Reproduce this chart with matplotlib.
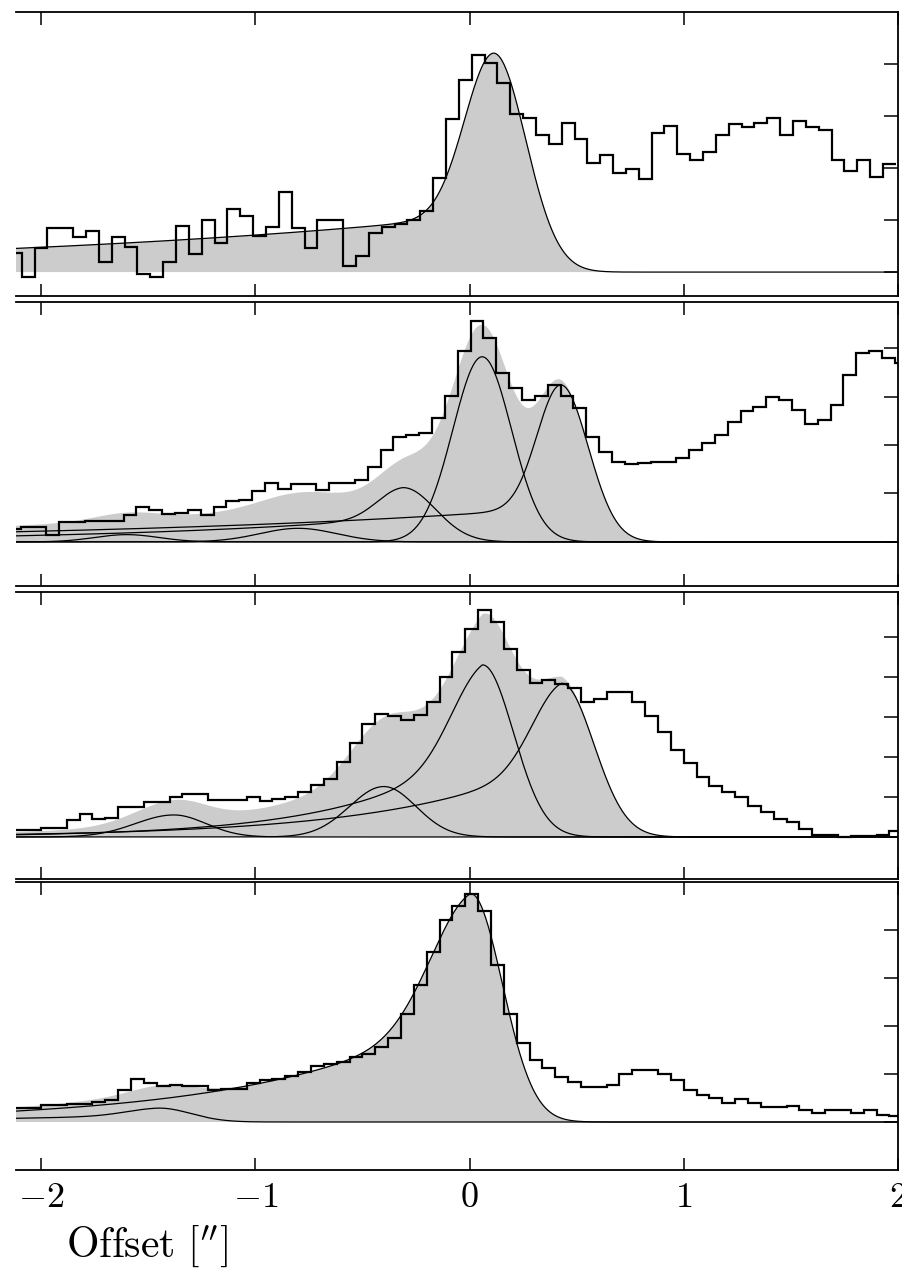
import matplotlib.pyplot as plt
import numpy as np

plt.rcParams['mathtext.fontset'] = 'cm'

# histogram binning (arcsec)
bin_width = 0.06
first_edge = [-2.15, -2.155, -2.18, -2.18]

flux_1 = [0.37, -0.09, 0.46, 0.85, 0.85, 0.67, 0.79, 0.19, 0.67, 0.48,
          -0.04, -0.09, 0.19, 0.88, 0.35, 1.00, 0.55, 1.21, 1.08, 0.69,
          0.87, 1.54, 0.84, 0.46, 1.01, 1.01, 0.12, 0.31, 0.75, 0.87,
          0.92, 1.00, 1.17, 1.80, 2.95, 3.69, 4.18, 4.02, 3.63, 3.03,
          2.96, 2.63, 2.46, 2.87, 2.56, 2.10, 2.25, 1.90, 1.98, 1.79,
          2.67, 2.81, 2.27, 2.15, 2.31, 2.63, 2.85, 2.79, 2.87, 2.96,
          2.63, 2.90, 2.79, 2.73, 2.15, 1.94, 2.15, 1.83, 2.08]

flux_2 = [0.27, 0.31, 0.31, 0.14, 0.42, 0.42, 0.43, 0.43, 0.44, 0.56,
          0.72, 0.66, 0.58, 0.60, 0.66, 0.56, 0.72, 0.85, 0.87, 1.05,
          1.21, 1.09, 1.20, 1.20, 1.07, 1.21, 1.22, 1.28, 1.55, 1.90,
          2.17, 2.20, 2.25, 2.56, 3.01, 3.94, 4.56, 4.20, 3.48, 3.17,
          2.93, 3.01, 3.24, 3.01, 2.76, 2.17, 1.86, 1.65, 1.61, 1.63,
          1.65, 1.65, 1.73, 1.90, 2.04, 2.20, 2.47, 2.70, 2.78, 2.99,
          2.93, 2.72, 2.43, 2.52, 2.82, 3.44, 3.90, 3.94, 3.80, 3.70]

flux_3 = [0.17, 0.17, 0.17, 0.22, 0.22, 0.42, 0.57, 0.44, 0.48, 0.74,
          0.74, 0.88, 0.88, 0.99, 1.07, 1.07, 0.92, 0.92, 0.92, 1.00,
          0.90, 0.95, 1.00, 1.12, 1.30, 1.44, 1.88, 2.36, 2.83, 3.08,
          3.01, 2.91, 3.05, 3.36, 3.99, 4.63, 5.19, 5.66, 5.38, 4.69,
          4.18, 3.84, 3.93, 3.83, 3.72, 3.38, 3.44, 3.61, 3.61, 3.38,
          3.01, 2.63, 2.18, 1.84, 1.51, 1.28, 1.13, 1.01, 0.78, 0.63,
          0.44, 0.38, 0.19, 0.05, 0.05, 0.00, 0.02, 0.02, 0.06, 0.16]

flux_4 = [0.29, 0.29, 0.29, 0.35, 0.35, 0.37, 0.37, 0.42, 0.46, 0.67,
          0.89, 0.82, 0.74, 0.77, 0.76, 0.74, 0.67, 0.68, 0.69, 0.82,
          0.875, 0.89, 0.96, 1.05, 1.17, 1.21, 1.26, 1.35, 1.42, 1.56,
          1.75, 2.26, 2.85, 3.55, 4.21, 4.50, 4.76, 4.40, 3.27, 2.26,
          1.65, 1.29, 1.12, 0.94, 0.84, 0.72, 0.72, 0.77, 1.01, 1.08,
          1.09, 1.01, 0.875, 0.67, 0.56, 0.51, 0.39, 0.47, 0.39, 0.31,
          0.31, 0.33, 0.24, 0.19, 0.24, 0.25, 0.19, 0.25, 0.15, 0.12]

# fit components: centre, peak, sigma left, sigma right, wing amp, wing scale
comps_1 = [(0.112, 4.21, 0.135, 0.150, 1.11, 2.5)]
comps_2 = [(0.059, 3.82, 0.137, 0.137, 0.0, 1.0),
           (0.425, 3.24, 0.110, 0.129, 0.71, 2.08),
           (-0.31, 1.12, 0.120, 0.150, 0.50, 1.3),
           (-0.80, 0.28, 0.180, 0.180, 0.0, 1.0),
           (-1.60, 0.15, 0.150, 0.150, 0.0, 1.0)]
comps_3 = [(0.06, 4.30, 0.150, 0.145, 2.36, 0.58),
           (0.43, 3.84, 0.140, 0.150, 1.96, 0.75),
           (-0.40, 1.26, 0.160, 0.150, 0.0, 1.0),
           (-1.38, 0.55, 0.180, 0.150, 0.0, 1.0)]
comps_4 = [(0.005, 4.76, 0.190, 0.148, 2.40, 0.90),
           (-1.45, 0.29, 0.150, 0.150, 0.15, 1.0)]

ylims = [(-0.46, 5.0), (-0.91, 4.95), (-1.05, 6.12), (-1.0, 5.0)]
yticks = [range(0, 5), range(0, 5), range(0, 6), range(0, 5)]

# panel boxes in pixels (top, bottom) of a 902x1268 figure
boxes = [(12, 296), (302, 586), (592, 879), (882, 1170)]


def profile(x, c, a, sl, sr, w0, L):
    d = x - c
    right = a * np.exp(-0.5 * (d / sr) ** 2)
    left = (a - w0) * np.exp(-0.5 * (d / sl) ** 2) + w0 * np.exp(d / L)
    return np.where(d >= 0, right, left)


fig = plt.figure(figsize=(9.02, 12.68), dpi=100)
x = np.linspace(-2.25, 2.1, 1500)

fluxes = [flux_1, flux_2, flux_3, flux_4]
comps = [comps_1, comps_2, comps_3, comps_4]

for k in range(4):
    top, bot = boxes[k]
    ax = fig.add_axes([16 / 902, 1 - bot / 1268, 882 / 902, (bot - top) / 1268])

    parts = [profile(x, *p) for p in comps[k]]
    total = np.sum(parts, axis=0)
    ax.fill_between(x, 0, total, color='#cccccc', lw=0, zorder=1)
    for p in parts:
        ax.plot(x, p, color='black', lw=0.9, zorder=2)

    vals = fluxes[k]
    edges = first_edge[k] + bin_width * np.arange(len(vals) + 1)
    ax.stairs(vals, edges, baseline=None, color='black', lw=1.6, zorder=3)

    ax.set_xlim(-2.117, 2.0)
    ax.set_ylim(*ylims[k])
    ax.set_xticks([-2, -1, 0, 1, 2])
    ax.set_yticks(list(yticks[k]))
    ax.spines['left'].set_visible(False)
    for s in ['top', 'bottom', 'right']:
        ax.spines[s].set_linewidth(1.3)
    ax.yaxis.tick_right()
    ax.tick_params(axis='y', direction='in', length=10, width=1.1,
                   labelright=False, labelleft=False, left=False)
    ax.tick_params(axis='x', direction='in', length=9, width=1.1,
                   top=True, bottom=True, labelbottom=False)
    if k == 3:
        ax.set_xticklabels(['$-2$', '$-1$', '$0$', '$1$', '$2$'])
        ax.tick_params(axis='x', labelbottom=True, labelsize=26, pad=7)

fig.text(66 / 902, 1 - 1258 / 1268, r'$\mathrm{Offset}\ [^{\prime\prime}]$',
         fontsize=30, va='baseline', ha='left')

fig.savefig('out.png', dpi=100)
